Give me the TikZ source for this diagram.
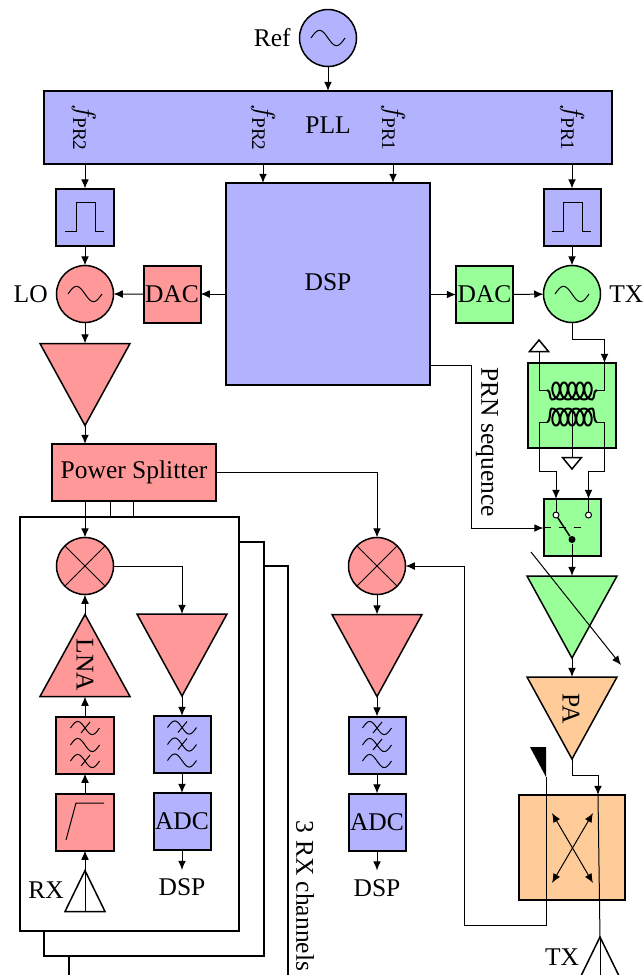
\documentclass[tikz,border=0pt]{standalone}
\usepackage{fontspec}
\setmainfont{Liberation Serif}
\usetikzlibrary{positioning, calc, arrows.meta, shapes.geometric}
\definecolor{rxred}{rgb}{1,.6,.6}
\definecolor{pllblue}{rgb}{.7,.7,1}
\definecolor{txgreen}{rgb}{.6,1,.6}
\definecolor{paorange}{rgb}{1,.8,.6}
\tikzset{
	>={Latex[length=3.7pt, width=3.1pt]},
	node distance=8pt,
	every node/.style={font=\fontsize{10.2}{12}\selectfont},
	block/.style={draw, thick, minimum size=22.8pt, inner sep=0pt, outer sep=0pt},
	osc/.style={circle, draw, semithick, minimum size=22.8pt, inner sep=0pt, outer sep=0pt},
	tri/.style={isosceles triangle, isosceles triangle stretches, draw, semithick, inner sep=0pt, outer sep=0pt},
	amp/.style={tri, minimum width=36pt, minimum height=32.8pt, shape border rotate=-90},
	lna/.style={tri, minimum width=36pt, minimum height=32.8pt, shape border rotate=90},
	ant/.style={tri, minimum width=16pt, minimum height=16.4pt, shape border rotate=90},
	term/.style={tri, minimum width=7.6pt, minimum height=4.6pt},
	rxbox/.style={draw, thick, fill=white, minimum width=87.6pt, minimum height=165.6pt},
	port/.style={circle, draw, thin, fill=white, minimum size=2.4pt, inner sep=0pt},
	prlabel/.style={rotate=-90, scale=1.08},
}
\newcommand{\sinewave}[3]{\draw[shift={(#1)}, #3] (-#2,0) sin (-#2/2,-#2/2.2) cos (0,0) sin (#2/2,#2/2.2) cos (#2,0);}
\newcommand{\oscsine}[1]{\sinewave{#1}{17}{}}
\newcommand{\pulsesym}[1]{\draw[shift={(#1)}] (-20,14) -- (-9,14) -- (-9,-15) -- (10,-15) -- (10,14) -- (19,14);}
\newcommand{\strike}[1]{\draw[shift={(#1)}] (-4,5) -- (5,-6);}
\newcommand{\filtersym}[3]{
	\sinewave{$(#1)+(0,-17)$}{14.5}{}
	\sinewave{$(#1)+(0,0)$}{14.5}{}
	\sinewave{$(#1)+(0,16)$}{14.5}{}
	\strike{$(#1)+(0,#2)$}
	\strike{$(#1)+(0,#3)$}
}
\newcommand{\xfcoil}[4]{\draw[thick] (#1) .. controls +(4,0) and (549,#3+#4*8.5) .. (552,#3+#4*8.5) -- plot[domain=-180:1620, samples=181, variable=\t] ({572+8*(\t-720)/360-5.5*sin(\t)},{#3-#4*8.5*cos(\t)}) -- (592,#3+#4*8.5) .. controls (595,#3+#4*8.5) and ($(#2)+(-4,0)$) .. (#2);}
\begin{document}
\begin{tikzpicture}[x=0.4pt, y=-0.4pt]
	\path[use as bounding box, clip] (0,0) rectangle (643,975);

	\node[rxbox] (RXc) at (178.5,773) {};
	\node[rxbox] (RXb) at (154,748.5) {};
	\node[rxbox] (RXa) at (129.5,724) {};

	\node[osc, fill=pllblue] (REF) at (328,38) {};
	\node[left=0pt of REF] (REFt) {Ref};
	\node[block, fill=pllblue, minimum width=227.2pt, minimum height=29.2pt, text depth=1.6pt] (PLL) at (328,127.5) {PLL};
	\node[prlabel] (PRa) at (84,128) {$f_{\mathrm{PR2}}$};
	\node[prlabel] (PRb) at (263,128) {$f_{\mathrm{PR2}}$};
	\node[prlabel] (PRc) at (393,128) {$f_{\mathrm{PR1}}$};
	\node[prlabel] (PRd) at (572,128) {$f_{\mathrm{PR1}}$};
	\node[block, fill=pllblue, minimum width=81.6pt, minimum height=80.8pt, text depth=1.6pt] (DSP) at (328,284) {DSP};

	\node[block, fill=pllblue] (PULa) at (85,217) {};
	\node[osc, fill=rxred, below=of PULa] (LO) {};
	\node[left=0pt of LO] (LOt) {LO};
	\node[block, fill=rxred] (DACa) at (172,294) {DAC};
	\node[amp, fill=rxred, below=8.4pt of LO, anchor=lower side] (AMPa) {};
	\node[block, fill=rxred, minimum width=65.6pt] (SPLIT) at (134,472.5) {Power Splitter};

	\node[osc, fill=rxred] (MIXa) at (85,566) {};
	\node[lna, fill=rxred, below=of MIXa, anchor=apex] (LNA) {};
	\node[rotate=-90] (LNAt) at (85,665) {LNA};
	\node[block, fill=rxred, below=of LNA.lower side] (FILa) {};
	\node[block, fill=rxred, below=of FILa] (HPF) {};
	\node[ant, below=of HPF, anchor=apex] (ANTa) {};
	\node (RXt) at (46,890) {RX};

	\node[amp, fill=rxred, anchor=lower side] (AMPb) at (182,614) {};
	\node[block, fill=pllblue, below=of AMPb.apex] (FILb) {};
	\node[block, fill=pllblue, below=of FILb] (ADCa) {ADC};
	\node[below=of ADCa] (DSPa) {DSP};

	\node[osc, fill=rxred] (MIXb) at (377,566) {};
	\node[amp, fill=rxred, below=of MIXb, anchor=lower side] (AMPc) {};
	\node[block, fill=pllblue, below=of AMPc.apex] (FILc) {};
	\node[block, fill=pllblue, below=of FILc] (ADCb) {ADC};
	\node[below=of ADCb] (DSPb) {DSP};
	\node[rotate=-90] (RXn) at (305,896) {3 RX channels};

	\node[block, fill=txgreen] (DACb) at (484.5,294.5) {DAC};
	\node[block, fill=pllblue] (PULb) at (572,217) {};
	\node[osc, fill=txgreen, below=of PULb] (TXO) {};
	\node[right=0pt of TXO] (TXt) {TX};
	\node[block, fill=txgreen, minimum width=35.2pt, minimum height=34pt] (XF) at (572,405.5) {};
	\node[block, fill=txgreen] (SW) at (572,527.5) {};
	\node[amp, fill=txgreen, below=of SW, anchor=lower side] (VGA) {};
	\node[amp, fill=paorange, below=7.6pt of VGA.apex, anchor=lower side] (PA) {};
	\node[rotate=-90] (PAt) at (571,709) {PA};
	\node[block, fill=paorange, minimum width=42.4pt, minimum height=42pt] (COUP) at (572,847.5) {};
	\node[ant, anchor=apex] (ANTb) at (600,937) {};
	\node (TXb) at (562,957) {TX};
	\node[rotate=-90] (PRN) at (487,442) {PRN sequence};

	\node[term, shape border rotate=90, anchor=apex] (TRa) at (539,340) {};
	\node[term, shape border rotate=-90, anchor=apex] (TRb) at (572,469) {};

	\coordinate (XLa) at (539,390);
	\coordinate (XRa) at (604.5,390);
	\coordinate (XLb) at (539,422);
	\coordinate (XRb) at (604.5,422);
	\coordinate (XCa) at (547,390);
	\coordinate (XCb) at (597,390);
	\coordinate (XCc) at (547,422);
	\coordinate (XCd) at (597,422);
	\coordinate (XCm) at (572,410);
	\coordinate (TXi) at (604.5,339);
	\node[port] (SWa) at ($(SW)+(-16,-12.5)$) {};
	\node[port] (SWb) at ($(SW)+(16.5,-12.5)$) {};
	\node[circle, fill=black, minimum size=2.8pt, inner sep=0pt] (SWc) at ($(SW)+(0,12)$) {};
	\coordinate (SWd) at (556,471);
	\coordinate (SWe) at (588.5,471);
	\coordinate (DSPo) at (430,365);
	\coordinate (PRNc) at (471,528);
	\coordinate (VGAa) at (531,552);
	\coordinate (VGAb) at (621,665);
	\coordinate (COi) at (598,775);
	\coordinate (CIa) at (546,777);
	\coordinate (CIb) at (464,925);
	\coordinate (SPa) at (110,480);
	\coordinate (SPb) at (133,480);
	\coordinate (ANTe) at (600,975);

	\oscsine{REF}
	\oscsine{LO}
	\oscsine{TXO}
	\pulsesym{PULa}
	\pulsesym{PULb}
	\filtersym{FILa}{-17}{16}
	\filtersym{FILb}{-17}{0}
	\filtersym{FILc}{-17}{0}
	\draw ($(HPF)+(-19,18)$) -- ($(HPF)+(-9,-19)$) -- ($(HPF)+(19,-19)$);
	\draw (MIXa.north west) -- (MIXa.south east);
	\draw (MIXa.north east) -- (MIXa.south west);
	\draw (MIXb.north west) -- (MIXb.south east);
	\draw (MIXb.north east) -- (MIXb.south west);
	\draw (ANTa.apex) -- (ANTa.lower side);
	\draw (ANTb.apex) -- (ANTe);

	\draw[->] (REF) -- (PLL.north -| REF);
	\draw[->] (PLL.south -| PULa) -- (PULa);
	\draw[->] (PLL.south -| PRb) -- (PRb |- DSP.north);
	\draw[->] (PLL.south -| PRc) -- (PRc |- DSP.north);
	\draw[->] (PLL.south -| PULb) -- (PULb);
	\draw[->] (PULa) -- (LO);
	\draw[->] (PULb) -- (TXO);
	\draw[->] (DSP.west |- DACa) -- (DACa);
	\draw[->] (DACa) -- (LO);
	\draw[->] (DSP.east |- DACb) -- (DACb);
	\draw[->] (DACb) -- (TXO);
	\draw[->] (LO) -- (AMPa.lower side);
	\draw[->] (AMPa.apex) -- (SPLIT.north -| AMPa.apex);
	\draw[->] (SPLIT.south -| MIXa) -- (MIXa);
	\draw (SPLIT.south -| SPa) -- (RXa.north -| SPa);
	\draw (SPLIT.south -| SPb) -- (RXa.north -| SPb);
	\draw[->] (SPLIT.east) -| (MIXb);
	\draw[->] (LNA.apex) -- (MIXa);
	\draw[->] (FILa) -- (LNA.lower side);
	\draw[->] (HPF) -- (FILa);
	\draw[->] (ANTa.apex) -- (HPF);
	\draw[->] (MIXa.east) -| (AMPb.lower side);
	\draw[->] (AMPb.apex) -- (FILb);
	\draw[->] (FILb) -- (ADCa);
	\draw[->] (ADCa) -- (DSPa);
	\draw[->] (MIXb) -- (AMPc.lower side);
	\draw[->] (AMPc.apex) -- (FILc);
	\draw[->] (FILc) -- (ADCb);
	\draw[->] (ADCb) -- (DSPb);

	\draw[->] (TXO.south) |- (TXi) -- (TXi |- XF.north);
	\draw (TXi |- XF.north) -- (XRa) -- (XCb);
	\xfcoil{XCa}{XCb}{391}{1}
	\draw (XCa) -- (XLa) -- (TRa.lower side);
	\draw (XRb) -- (XCd);
	\xfcoil{XCc}{XCd}{417}{-1}
	\draw (XCc) -- (XLb);
	\draw (XCm) -- (TRb.lower side);
	\draw[->] (XLb) |- (SWd) -- (SWd |- SW.north);
	\draw[->] (XRb) |- (SWe) -- (SWe |- SW.north);
	\draw (SWd |- SW.north) -- (SWa);
	\draw (SWe |- SW.north) -- (SWb);
	\draw[semithick] (SWa) -- (SWc);
	\draw[dashed] (SW.west) -- ++(38,0);
	\draw[->] (DSPo) -| (PRNc) -- (PRNc -| SW.west);
	\draw[->] (SWc) -- (VGA.lower side);
	\draw[->] (VGA.apex) -- (PA.lower side);
	\draw[->] (VGAa) -- (VGAb);
	\draw[->] (PA.apex) |- (COi) -- (COi |- COUP.north);
	\draw (COi |- COUP.north) -- (ANTb.apex);
	\fill (530,747) -- (CIa |- 0,747) -- (CIa) -- cycle;
	\draw[->] (CIa) |- (CIb) |- (MIXb.east);
	\draw[<->] ($(COUP)+(-20,-34.5)$) -- ($(COUP)+(21,35.5)$);
	\draw[<->] ($(COUP)+(21,-34.5)$) -- ($(COUP)+(-20,35.5)$);
\end{tikzpicture}
\end{document}
